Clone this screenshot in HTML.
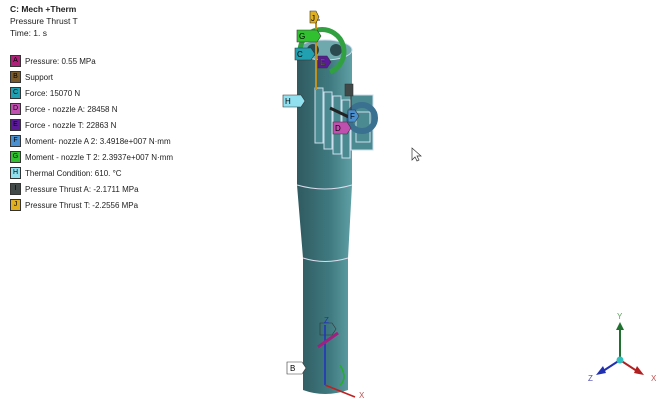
<!DOCTYPE html>
<html><head><meta charset="utf-8"><style>
body{margin:0;background:#fff;width:665px;height:412px;overflow:hidden;font-family:"Liberation Sans",sans-serif}
.t{position:absolute;left:10px;font-size:8.5px;color:#222}
.lg{position:absolute;left:10px;font-size:8px;color:#222;display:flex;align-items:center}
.lg b{display:inline-block;width:9px;height:10px;border:1px solid #333;margin-right:4px;font-size:7px;text-align:center;line-height:10px;font-weight:normal;color:#000}
</style></head><body>
<div class="t" style="top:4px;font-weight:bold">C: Mech +Therm</div>
<div class="t" style="top:16px">Pressure Thrust T</div>
<div class="t" style="top:28px">Time: 1. s</div>
<div class="lg" style="top:55px"><b style="background:#b0207a">A</b>Pressure: 0.55 MPa</div>
<div class="lg" style="top:71px"><b style="background:#7a5a2a">B</b>Support</div>
<div class="lg" style="top:87px"><b style="background:#20a0b0">C</b>Force: 15070 N</div>
<div class="lg" style="top:103px"><b style="background:#c050b0">D</b>Force - nozzle A: 28458 N</div>
<div class="lg" style="top:119px"><b style="background:#5a1a9a">E</b>Force - nozzle T: 22863 N</div>
<div class="lg" style="top:135px"><b style="background:#4a90d0">F</b>Moment- nozzle A 2: 3.4918e+007 N·mm</div>
<div class="lg" style="top:151px"><b style="background:#30c030">G</b>Moment - nozzle T 2: 2.3937e+007 N·mm</div>
<div class="lg" style="top:167px"><b style="background:#90e0f0">H</b>Thermal Condition: 610. °C</div>
<div class="lg" style="top:183px"><b style="background:#404848">I</b>Pressure Thrust A: -2.1711 MPa</div>
<div class="lg" style="top:199px"><b style="background:#e0b020">J</b>Pressure Thrust T: -2.2556 MPa</div>
<svg width="665" height="412" style="position:absolute;left:0;top:0" font-family="Liberation Sans" font-size="8">
<defs><linearGradient id="g" x1="0" x2="1"><stop offset="0" stop-color="#2f5a60"/><stop offset="0.6" stop-color="#3f7a80"/><stop offset="1" stop-color="#5fa0a5"/></linearGradient></defs>
<path d="M297 50 L352 50 L352 185 L348 258 L348 390 Q325 398 303 390 L303 258 L297 185 Z" fill="url(#g)"/>
<ellipse cx="325" cy="50" rx="27" ry="10" fill="#6fa8ad" stroke="#cde" stroke-width="1"/>
<circle cx="313" cy="50" r="6" fill="#2a4a50"/><circle cx="336" cy="50" r="6" fill="#2a4a50"/>
<path d="M297 185 Q325 193 352 185" stroke="#dde" fill="none"/>
<path d="M303 258 Q325 265 348 258" stroke="#dde" fill="none"/>
<g stroke="#cde" stroke-width="1" fill="#4a8a90">
<rect x="315" y="88" width="8" height="55"/><rect x="324" y="92" width="8" height="57"/><rect x="333" y="96" width="8" height="58"/><rect x="342" y="100" width="8" height="58"/><rect x="351" y="95" width="22" height="55"/>
</g>
<rect x="356" y="112" width="14" height="30" fill="none" stroke="#cde"/>
<circle cx="362" cy="118" r="13" fill="none" stroke="#3a7090" stroke-width="6"/>
<line x1="330" y1="108" x2="355" y2="120" stroke="#222" stroke-width="3"/>
<path d="M300 52 A22 22 0 1 1 330 72" fill="none" stroke="#30a040" stroke-width="5"/>
<line x1="316" y1="20" x2="316" y2="90" stroke="#c09020" stroke-width="2"/>
<line x1="315" y1="20" x2="320" y2="20" stroke="#333"/>
<line x1="351" y1="90" x2="351" y2="120" stroke="#333"/>
<g stroke="#333" stroke-width="0.6" font-size="8">
<path d="M310 11 h6 l3 6 l-3 6 h-6z" fill="#e0b020"/><text x="311" y="21" stroke="none">J</text>
<path d="M297 30 h20 l4 6 l-4 6 h-20z" fill="#30c030"/><text x="299" y="39" stroke="none">G</text>
<path d="M295 48 h16 l4 6 l-4 6 h-16z" fill="#20a0b0"/><text x="297" y="57" stroke="none">C</text>
<path d="M318 56 h9 l4 6 l-4 6 h-9z" fill="#5a1a9a"/><text x="320" y="65" stroke="#none" fill="#fff">E</text>
<path d="M283 95 h18 l4 6 l-4 6 h-18z" fill="#90e0f0"/><text x="285" y="104" stroke="none">H</text>
<path d="M345 84 h8 v12 h-8z" fill="#404848"/>
<path d="M348 110 h7 l4 6 l-4 6 h-7z" fill="#4a90d0"/><text x="350" y="119" stroke="none">F</text>
<path d="M333 122 h14 l4 6 l-4 6 h-14z" fill="#c050b0"/><text x="335" y="131" stroke="none">D</text>
<path d="M287 362 h15 l4 6 l-4 6 h-15z" fill="#fff"/><text x="290" y="371" stroke="none">B</text>
<path d="M320 323 h12 l4 6 l-4 6 h-12z" fill="none"/>
</g>
<line x1="325" y1="325" x2="325" y2="385" stroke="#2030c0" stroke-width="1.5"/>
<text x="324" y="323" fill="#2030c0" font-size="8">Z</text>
<line x1="325" y1="385" x2="355" y2="397" stroke="#c02020" stroke-width="1.5"/>
<text x="359" y="398" fill="#c05050" font-size="8">X</text>
<path d="M340 365 Q348 378 340 385" stroke="#20b020" fill="none" stroke-width="1.5"/>
<line x1="318" y1="347" x2="338" y2="333" stroke="#a02080" stroke-width="3"/>
<path d="M412 148 l0 12 l3 -3 l2 4 l2 -1 l-2 -4 l4 0z" fill="#fff" stroke="#333" stroke-width="0.7"/>
<line x1="620" y1="360" x2="620" y2="328" stroke="#207030" stroke-width="2"/><path d="M616 330 l4 -8 l4 8z" fill="#207030"/>
<text x="617" y="319" fill="#60a060" font-size="8">Y</text>
<line x1="620" y1="360" x2="640" y2="373" stroke="#b02020" stroke-width="2"/><path d="M637 366 l7 9 l-10 -2z" fill="#b02020"/>
<text x="651" y="381" fill="#c05050" font-size="8">X</text>
<line x1="620" y1="360" x2="600" y2="373" stroke="#2030b0" stroke-width="2"/><path d="M603 366 l-7 9 l10 -2z" fill="#2030b0"/>
<text x="588" y="381" fill="#5050b0" font-size="8">Z</text>
<circle cx="620" cy="360" r="3.5" fill="#30c0c0"/>
</svg>
</body></html>
